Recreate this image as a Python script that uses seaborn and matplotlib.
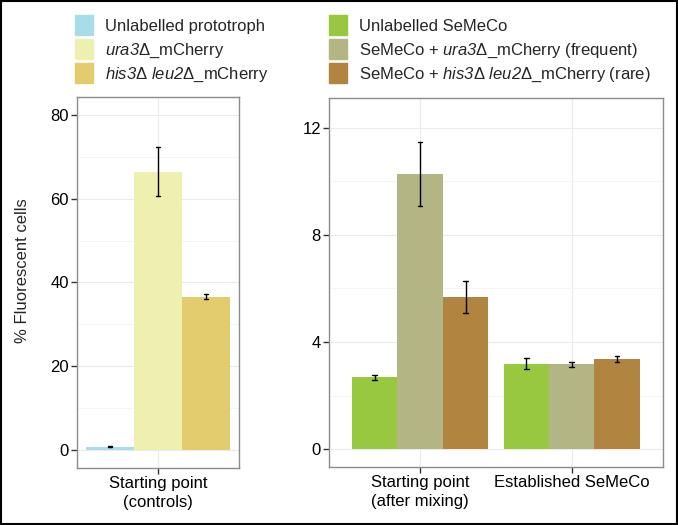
import seaborn as sns
import matplotlib.pyplot as plt
import matplotlib.patches as mpatches
import pandas as pd
import numpy as np

# ---- data ----
ctrl_groups = ["Starting point\n(controls)"]
ctrl_strains = ["Unlabelled prototroph", "ura3_mCherry", "his3_leu2_mCherry"]
ctrl_mean = [0.8, 66.4, 36.6]
ctrl_lo = [0.7, 60.5, 36.0]
ctrl_hi = [0.9, 72.3, 37.2]

mix_groups = ["Starting point\n(after mixing)", "Established SeMeCo"]
mix_strains = ["Unlabelled SeMeCo", "SeMeCo + ura3 (frequent)", "SeMeCo + his3 leu2 (rare)"]
mix_mean = {
    "Unlabelled SeMeCo": [2.68, 3.17],
    "SeMeCo + ura3 (frequent)": [10.27, 3.17],
    "SeMeCo + his3 leu2 (rare)": [5.68, 3.36],
}
mix_lo = {
    "Unlabelled SeMeCo": [2.59, 2.98],
    "SeMeCo + ura3 (frequent)": [9.08, 3.07],
    "SeMeCo + his3 leu2 (rare)": [5.07, 3.27],
}
mix_hi = {
    "Unlabelled SeMeCo": [2.77, 3.40],
    "SeMeCo + ura3 (frequent)": [11.48, 3.27],
    "SeMeCo + his3 leu2 (rare)": [6.28, 3.48],
}

ctrl_colors = ["#A8DCE8", "#EEF0B0", "#E3CC6E"]
mix_colors = ["#97C83F", "#B4B585", "#B1843F"]

# legend labels (italic gene names, math text is set to italic below)
ctrl_labels = ["Unlabelled prototroph",
               r"$\mathrm{ura3}$Δ_mCherry",
               r"$\mathrm{his3}$Δ $\mathrm{leu2}$Δ_mCherry"]
mix_labels = ["Unlabelled SeMeCo",
              r"SeMeCo + $\mathrm{ura3}$Δ_mCherry (frequent)",
              r"SeMeCo + $\mathrm{his3}$Δ $\mathrm{leu2}$Δ_mCherry (rare)"]

sns.set_style("white")
plt.rcParams['font.family'] = ['Liberation Sans', 'DejaVu Sans']
plt.rcParams['mathtext.fontset'] = 'custom'
plt.rcParams['mathtext.rm'] = 'Liberation Sans:italic'
plt.rcParams['mathtext.it'] = 'Liberation Sans:italic'

FS = 12

df_ctrl = pd.DataFrame({"group": ctrl_groups * 3, "strain": ctrl_strains, "value": ctrl_mean})
rows = []
for s in mix_strains:
    for g, v in zip(mix_groups, mix_mean[s]):
        rows.append({"group": g, "strain": s, "value": v})
df_mix = pd.DataFrame(rows)

fig = plt.figure(figsize=(6.78, 5.25), dpi=100)
ax1 = fig.add_axes([0.1136, 0.109, 0.239, 0.706])
ax2 = fig.add_axes([0.4857, 0.111, 0.4917, 0.702])

sns.barplot(data=df_ctrl, x="group", y="value", hue="strain", hue_order=ctrl_strains,
            palette=ctrl_colors, width=0.9, errorbar=None, saturation=1, legend=False, ax=ax1)
sns.barplot(data=df_mix, x="group", y="value", hue="strain", hue_order=mix_strains,
            order=mix_groups, palette=mix_colors, width=0.9, errorbar=None, saturation=1,
            legend=False, ax=ax2)

CAP = 0.015

def errbar(ax, xc, lo, hi):
    ax.plot([xc, xc], [lo, hi], color="black", lw=1, zorder=5)
    ax.plot([xc - CAP, xc + CAP], [lo] * 2, color="black", lw=1, zorder=5)
    ax.plot([xc - CAP, xc + CAP], [hi] * 2, color="black", lw=1, zorder=5)

# error bars at bar centres
for i, cont in enumerate(ax1.containers):
    for bar in cont:
        errbar(ax1, bar.get_x() + bar.get_width() / 2, ctrl_lo[i], ctrl_hi[i])
for i, cont in enumerate(ax2.containers):
    s = mix_strains[i]
    for j, bar in enumerate(cont):
        errbar(ax2, bar.get_x() + bar.get_width() / 2, mix_lo[s][j], mix_hi[s][j])

for bar in ax1.patches + ax2.patches:
    bar.set_linewidth(0)
    bar.set_zorder(3)

ax1.set_ylim(-4.2, 84.2)
ax1.set_xlim(-0.506, 0.506)
ax1.set_yticks([0, 20, 40, 60, 80])
ax1.set_yticks([10, 30, 50, 70], minor=True)
ax2.set_ylim(-0.65, 13.1)
ax2.set_xlim(-0.6, 1.6)
ax2.set_yticks([0, 4, 8, 12])
ax2.set_yticks([2, 6, 10], minor=True)

for ax in (ax1, ax2):
    ax.set_xlabel("")
    ax.set_ylabel("")
    ax.grid(True, which="major", color="#EBEBEB", lw=0.8, zorder=0)
    ax.grid(True, which="minor", axis="y", color="#F4F4F4", lw=0.6, zorder=0)
    ax.set_axisbelow(True)
    for sp in ax.spines.values():
        sp.set_visible(True)
        sp.set_color("#8C8C8C")
        sp.set_linewidth(1)
    ax.tick_params(axis="both", which="major", length=4, width=1, color="#333333",
                   labelsize=FS, labelcolor="black", pad=2, direction="out",
                   bottom=True, left=True)
    ax.tick_params(which="minor", length=0)
    for lab in ax.get_xticklabels():
        lab.set_linespacing(1.3)

ax1.set_ylabel("% Fluorescent cells", fontsize=FS)
ax1.yaxis.set_label_coords(-0.29, 0.532)

# legends
h1 = [mpatches.Patch(color=c) for c in ctrl_colors]
h2 = [mpatches.Patch(color=c) for c in mix_colors]
kw = dict(frameon=False, fontsize=FS, handlelength=1.1, handleheight=1.5,
          handletextpad=0.7, labelspacing=0.2, borderaxespad=0)
fig.legend(h1, ctrl_labels, loc="upper left", bbox_to_anchor=(0.1007, 0.984), **kw)
fig.legend(h2, mix_labels, loc="upper left", bbox_to_anchor=(0.4755, 0.984), **kw)

# outer frame
fig.patches.append(mpatches.Rectangle((0.001, 0.001), 0.998, 0.998, transform=fig.transFigure,
                                      fill=False, edgecolor="black", lw=1.5))

fig.savefig("out.png", dpi=100)
